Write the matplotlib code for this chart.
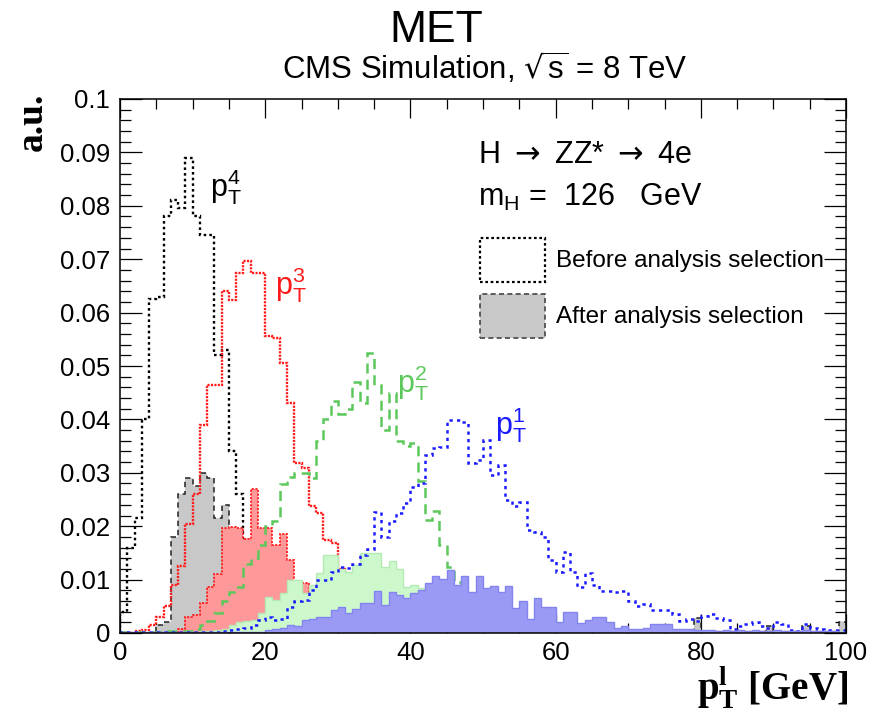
import numpy as np
import matplotlib
matplotlib.use("Agg")
import matplotlib.pyplot as plt
from matplotlib.patches import Patch
from matplotlib.ticker import MultipleLocator

plt.rcParams['font.family'] = ['Liberation Sans', 'DejaVu Sans']

# ---------------- data (1 GeV bins, 0-100 GeV) ----------------
bin_edges = list(range(0, 101))

# pT4 before (black dotted)
pt4_before = [0.004, 0.016, 0.0215, 0.040, 0.0625, 0.063, 0.078, 0.081, 0.0795, 0.089,
              0.078, 0.0745, 0.0745, 0.052, 0.053, 0.034, 0.026, 0.0175, 0.011, 0.007,
              0.005, 0.0035, 0.0025, 0.0018, 0.0012, 0.001, 0.0008, 0.0006, 0.0005, 0.0004,
              0.0003, 0.0003, 0.0002, 0.0002, 0.0002, 0.0001, 0.0001, 0.0001, 0.0001, 0.0001] + [0.0] * 60
# pT4 after (grey fill)
pt4_after = [0, 0, 0, 0, 0, 0.0015, 0.002, 0.018, 0.026, 0.029,
             0.0275, 0.030, 0.029, 0.0215, 0.024, 0.013, 0.009, 0.006, 0.004, 0.003,
             0.002, 0.0015, 0.001, 0.0008, 0.0006, 0.0004, 0.0003, 0.0002, 0.0001, 0.0001] + [0.0] * 70
pt4_after[79] = 0.0028
pt4_after[89] = 0.0013
pt4_after[94] = 0.0013
pt4_after[99] = 0.002

# pT3 before (red dotted)
pt3_before = [0, 0, 0.0003, 0.0006, 0.0015, 0.003, 0.005, 0.009, 0.0125, 0.0205,
              0.026, 0.039, 0.0465, 0.0465, 0.064, 0.0624, 0.0674, 0.0696, 0.0674, 0.0674,
              0.0556, 0.0553, 0.0506, 0.043, 0.0318, 0.0309, 0.0237, 0.0224, 0.0174, 0.0168,
              0.012, 0.008, 0.005, 0.0035, 0.0025, 0.002, 0.0015, 0.001, 0.0008, 0.0006,
              0.0005, 0.0004, 0.0003, 0.0003, 0.0002] + [0.0001] * 55
# pT3 after (red fill)
pt3_after = [0, 0, 0, 0, 0, 0, 0, 0, 0.0008, 0.003,
             0.0034, 0.0056, 0.0087, 0.011, 0.0197, 0.0199, 0.0197, 0.0176, 0.027, 0.0196,
             0.0196, 0.0165, 0.0185, 0.0137, 0.0095, 0.0093, 0.005, 0.004, 0.003, 0.002,
             0.0015, 0.001, 0.0008, 0.0006, 0.0005, 0.0004, 0.0003, 0.0003, 0.0002, 0.0002] + [0.0001] * 60

# pT2 before (green dashed)
pt2_before = [0.0001, 0.0001, 0.0001, 0.0001, 0.0001, 0.0001, 0.0003, 0.0003, 0.0003, 0.0003,
              0.0008, 0.0015, 0.0022, 0.0037, 0.0059, 0.0077, 0.0087, 0.013, 0.014, 0.0165,
              0.020, 0.021, 0.0279, 0.0293, 0.0300, 0.0300, 0.029, 0.036, 0.040, 0.0434,
              0.041, 0.042, 0.047, 0.043, 0.0524, 0.0465, 0.038, 0.045, 0.036, 0.035,
              0.0355, 0.0284, 0.0212, 0.0228, 0.0165, 0.0124, 0.0095, 0.007, 0.006, 0.005,
              0.004, 0.0035, 0.003, 0.0025, 0.002, 0.0018, 0.0015, 0.0012, 0.001, 0.0009,
              0.0008, 0.0006, 0.0006, 0.0005, 0.0005, 0.0004, 0.0004, 0.0003, 0.0003, 0.0003] + [0.0002] * 30
# pT2 after (green fill)
pt2_after = [0, 0, 0, 0, 0, 0, 0, 0, 0, 0.0001,
             0.0002, 0.0003, 0.0004, 0.0005, 0.0008, 0.0015, 0.002, 0.0022, 0.0025, 0.0037,
             0.0067, 0.0062, 0.0075, 0.0099, 0.0099, 0.0075, 0.009, 0.0112, 0.0146, 0.0146,
             0.0119, 0.0115, 0.0127, 0.015, 0.015, 0.015, 0.0124, 0.0134, 0.0119, 0.0087,
             0.009, 0.0085, 0.008, 0.007, 0.006, 0.005, 0.004, 0.0035, 0.003, 0.0025,
             0.0022, 0.002, 0.0018, 0.0016, 0.0015, 0.0012, 0.001, 0.0009, 0.0008, 0.0008,
             0.0007, 0.0006, 0.0006, 0.0005, 0.0005, 0.0004, 0.0004, 0.0004, 0.0003, 0.0003] + [0.0003] * 30

# pT1 before (blue dotted)
pt1_before = [0.0001] * 10 + [0.0002, 0.0002, 0.0002, 0.0002, 0.0003, 0.0005, 0.0008, 0.001, 0.0015, 0.0025,
              0.003, 0.0024, 0.0026, 0.0048, 0.006, 0.0062, 0.008, 0.010, 0.0099, 0.0115,
              0.0123, 0.0122, 0.013, 0.0146, 0.0157, 0.0227, 0.018, 0.021, 0.0224, 0.0243,
              0.0274, 0.028, 0.0334, 0.0346, 0.0349, 0.0399, 0.0399, 0.0395, 0.0318, 0.0324,
              0.0361, 0.0296, 0.0315, 0.0249, 0.0237, 0.0246, 0.0193, 0.019, 0.018, 0.0137,
              0.0115, 0.0152, 0.0115, 0.0087, 0.0112, 0.009, 0.0079, 0.0079, 0.0077, 0.0079,
              0.006, 0.005, 0.0055, 0.0043, 0.0043, 0.0043, 0.0036, 0.0022, 0.0027, 0.0022,
              0.0032, 0.0036, 0.0028, 0.0024, 0.0008, 0.0013, 0.0016, 0.0021, 0.0014, 0.001,
              0.0021, 0.0016, 0.0005, 0.0004, 0.0016, 0.001, 0.0007, 0.0006, 0.0005, 0.0005]
# pT1 after (blue fill)
pt1_after = [0.0002] * 20 + [0.0006, 0.0008, 0.0009, 0.0015, 0.0014, 0.0024, 0.0027, 0.003, 0.003, 0.0044,
             0.0049, 0.0037, 0.0045, 0.0056, 0.0056, 0.0079, 0.0052, 0.0077, 0.0071, 0.0065,
             0.0075, 0.008, 0.0094, 0.0107, 0.0102, 0.0118, 0.009, 0.0107, 0.0077, 0.0107,
             0.0084, 0.0088, 0.0077, 0.0088, 0.0046, 0.0059, 0.0027, 0.0065, 0.0049, 0.0049,
             0.0021, 0.004, 0.004, 0.0018, 0.0024, 0.003, 0.003, 0.0021, 0.0009, 0.0013,
             0.0007, 0.0008, 0.001, 0.0016, 0.0016, 0.0016, 0.0007, 0.0008, 0.0008, 0.0006,
             0.0006, 0.0005, 0.0004, 0.0006, 0.0003, 0.0005, 0.0004, 0.0006, 0.0003, 0.0004,
             0.0005, 0.0003, 0.0004, 0.0003, 0.0005, 0.0003, 0.0004, 0.0003, 0.0003, 0.0002]

y_ticks = [0, 0.01, 0.02, 0.03, 0.04, 0.05, 0.06, 0.07, 0.08, 0.09, 0.1]
y_tick_labels = ['0', '0.01', '0.02', '0.03', '0.04', '0.05', '0.06', '0.07', '0.08', '0.09', '0.1']
x_ticks = [0, 20, 40, 60, 80, 100]
x_tick_labels = ['0', '20', '40', '60', '80', '100']

# ---------------- figure ----------------
fig = plt.figure(figsize=(8.72, 7.2), dpi=100)
ax = fig.add_axes([120 / 872, 1 - 633 / 720, 726 / 872, 534 / 720])

edges = np.array(bin_edges, dtype=float)

# drawn lepton by lepton: before (line), then after (fill)
# pT4
ax.stairs(pt4_before, edges, fill=False, color='black', lw=1.7, linestyle=(0, (1.1, 1.3)), zorder=1)
ax.stairs(pt4_after, edges, fill=True, facecolor='#c8c8c8', edgecolor='none', zorder=2)
ax.stairs(pt4_after, edges, fill=False, color='#222222', lw=1.1, linestyle=(0, (3.5, 2.5)), zorder=2.1)
# pT3
ax.stairs(pt3_before, edges, fill=False, color='#ff1a1a', lw=1.7, linestyle=(0, (0.9, 0.55)), zorder=3)
ax.stairs(pt3_after, edges, fill=True, facecolor='#ff9999', edgecolor='none', zorder=4)
ax.stairs(pt3_after, edges, fill=False, color='#ff2020', lw=1.3, linestyle=(0, (1.2, 0.8)), zorder=4.1)
# pT2
ax.stairs(pt2_before, edges, fill=False, color='#5cc85c', lw=1.8, linestyle=(0, (4.0, 2.5)), zorder=5)
ax.stairs(pt2_after, edges, fill=True, facecolor='#ccf8cc', edgecolor='none', zorder=6)
ax.stairs(pt2_after, edges, fill=False, color='#b5eab5', lw=1.0, zorder=6.1)
# pT1
ax.stairs(pt1_before, edges, fill=False, color='#1a1aff', lw=1.8, linestyle=(0, (1.3, 1.7)), zorder=7)
ax.stairs(pt1_after, edges, fill=True, facecolor='#9a9af5', edgecolor='none', zorder=8)
ax.stairs(pt1_after, edges, fill=False, color='#8484ee', lw=1.0, zorder=8.1)

ax.set_xlim(0, 100)
ax.set_ylim(0, 0.1)
ax.set_xticks(x_ticks)
ax.set_xticklabels(x_tick_labels)
ax.set_yticks(y_ticks)
ax.set_yticklabels(y_tick_labels)
ax.xaxis.set_minor_locator(MultipleLocator(5))
ax.yaxis.set_minor_locator(MultipleLocator(0.002))
ax.tick_params(axis='both', which='both', direction='in', top=True, right=True, width=0.9, colors='black')
ax.tick_params(axis='y', which='major', length=16, labelsize=18.5, pad=7)
ax.tick_params(axis='y', which='minor', length=8)
ax.tick_params(axis='x', which='major', length=14, labelsize=18.5, pad=6)
ax.tick_params(axis='x', which='minor', length=7.5)
for s in ax.spines.values():
    s.set_linewidth(1.1)
    s.set_zorder(20)

# titles
fig.text(436 / 872, 1 - 31 / 720, 'MET', ha='center', va='center', fontsize=32)
fig.text(485 / 872, 1 - 68 / 720, r'CMS Simulation, $\sqrt{\mathregular{s}}$ = 8 TeV',
         ha='center', va='center', fontsize=22.5)
fig.text(32 / 872, 1 - 93 / 720, 'a.u.', rotation=90, ha='center', va='top',
         fontsize=27, family='Liberation Serif', weight='bold')
fig.text(848 / 872, 1 - 688 / 720, r'$\mathregular{p_{T}^{l}}$ [GeV]', ha='right', va='center',
         fontsize=28, family='Liberation Serif', weight='bold')

# annotations
ax.text(0.493, 0.895, r'H $\rightarrow$ ZZ* $\rightarrow$ 4e', transform=ax.transAxes,
        ha='left', va='center', fontsize=22)
ax.text(0.493, 0.815, r'm$_\mathregular{H}$ =  126   GeV', transform=ax.transAxes,
        ha='left', va='center', fontsize=22)

ax.text(0.124, 0.835, r'$\mathregular{p_{T}^{4}}$', transform=ax.transAxes, fontsize=22, color='black', va='center', zorder=30)
ax.text(0.2135, 0.652, r'$\mathregular{p_{T}^{3}}$', transform=ax.transAxes, fontsize=22, color='#ff1a1a', va='center', zorder=30)
ax.text(0.3815, 0.468, r'$\mathregular{p_{T}^{2}}$', transform=ax.transAxes, fontsize=22, color='#5cc85c', va='center', zorder=30)
ax.text(0.5165, 0.39, r'$\mathregular{p_{T}^{1}}$', transform=ax.transAxes, fontsize=22, color='#1a1aff', va='center', zorder=30)

handles = [Patch(facecolor='white', edgecolor='black', linestyle=(0, (1.2, 1.2)), linewidth=1.6),
           Patch(facecolor='#c8c8c8', edgecolor='#444444', linestyle=(0, (3, 2)), linewidth=1.2)]
leg = ax.legend(handles, ['Before analysis selection', 'After analysis selection'],
                loc='upper left', bbox_to_anchor=(0.4959, 0.7397), borderaxespad=0, borderpad=0,
                frameon=False, fontsize=17.5, handlelength=2.66, handleheight=2.4,
                handletextpad=0.45, labelspacing=0.5)
leg.set_zorder(30)

fig.savefig('out.png', dpi=100)
